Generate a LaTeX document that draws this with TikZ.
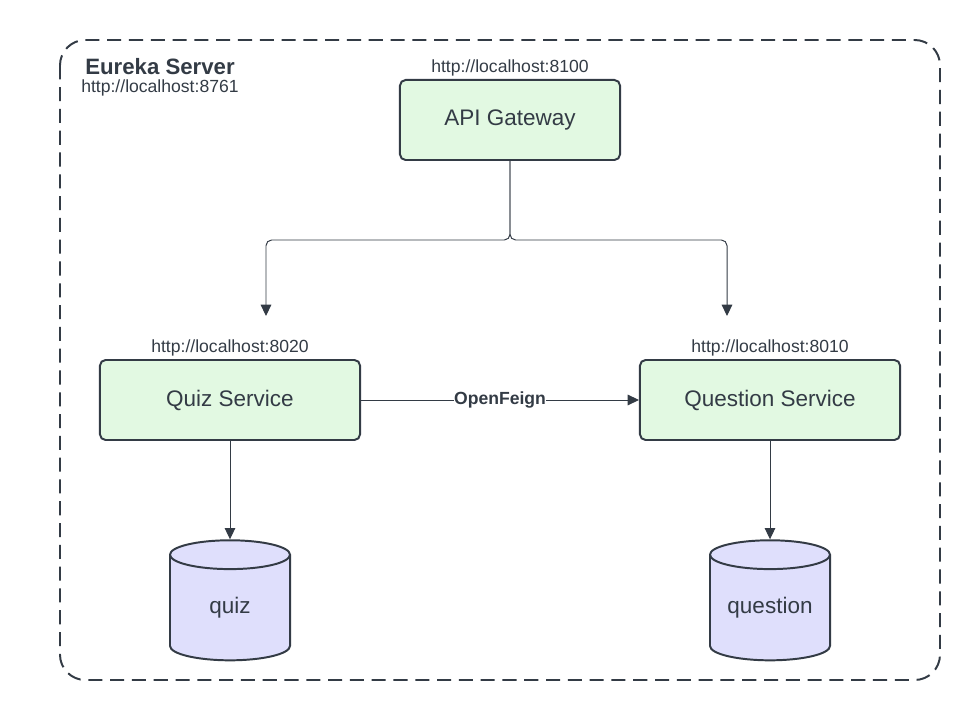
\documentclass[tikz,border=0pt]{standalone}
\usepackage{fontspec}
\setmainfont{Liberation Sans}
\usetikzlibrary{arrows.meta,shapes.geometric}
\definecolor{ink}{HTML}{333B45}
\definecolor{svcgreen}{HTML}{E2F9E2}
\definecolor{dbblue}{HTML}{DFDFFC}
\tikzset{
  svc/.style = {draw=ink, fill=svcgreen, line width=1.4pt, rounded corners=4pt,
    text=ink, font=\fontsize{16}{18}\selectfont, minimum height=2cm},% service box
  db/.style = {cylinder, shape border rotate=90, aspect=0.3, draw=ink,
    fill=dbblue, line width=1.4pt, text=ink, font=\fontsize{16}{18}\selectfont,
    text width=2.4cm, align=center, minimum width=3cm, minimum height=3cm,
    inner sep=0pt},% database
  url/.style = {text=ink, font=\fontsize{12.5}{14}\selectfont, inner sep=0pt},
  conn/.style = {draw=ink, line width=0.7pt}
}
\begin{document}
\begin{tikzpicture}[x=0.025cm, y=-0.025cm, >={Triangle[length=8pt, width=7.5pt]}]
\useasboundingbox (0,0) rectangle (980,720);
% eureka server frame
\draw[ink, line width=1.4pt, dash pattern=on 10pt off 5.5pt, rounded corners=18pt]
  (60,40) rectangle (940,680);
\node[text=ink, font=\bfseries\fontsize{15.8}{17}\selectfont, anchor=west, inner sep=0pt]
  (eureka) at (85,67) {Eureka Server};
\node[url, anchor=west] (eurekaurl) at (81,88) {http://localhost:8761};
% services
\node[svc, minimum width=5.5cm] (gateway) at (510,120) {API Gateway};
\node[url] (gatewayurl) at (510,68) {http://localhost:8100};
\node[svc, minimum width=6.5cm] (quiz) at (230,400) {Quiz Service};
\node[url] (quizurl) at (230,348) {http://localhost:8020};
\node[svc, minimum width=6.5cm] (question) at (770,400) {Question Service};
\node[url] (questionurl) at (770,348) {http://localhost:8010};
% databases
\node[db] (quizdb) at (230,608) {quiz};
\node[db] (questiondb) at (770,608) {question};
% connectors
\coordinate (split) at (510,240);
\coordinate (quizin) at (266,316);
\coordinate (questionin) at (727,316);
\draw[conn, ->, rounded corners=4pt] (gateway.south) -- (split) -| (quizin);
\draw[conn, ->, rounded corners=4pt] (gateway.south) -- (split) -| (questionin);
\draw[conn, ->] (quiz.east) -- (question.west)
  node[pos=0.5, fill=white, inner sep=0pt, text=ink,
    font=\bfseries\fontsize{12.5}{14}\selectfont] {OpenFeign};
\draw[conn, ->] (quiz.south) -- (quizdb.top);
\draw[conn, ->] (question.south) -- (questiondb.top);
\end{tikzpicture}
\end{document}
